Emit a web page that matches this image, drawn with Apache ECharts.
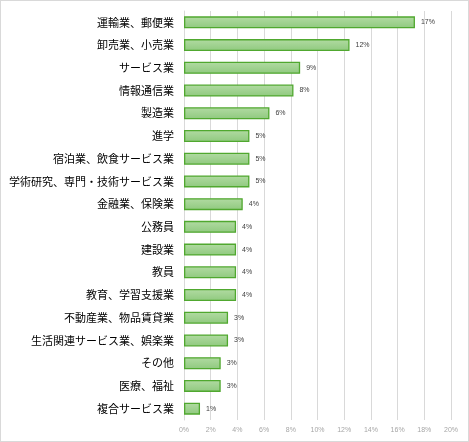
<!DOCTYPE html>
<html>
<head>
<meta charset="utf-8">
<script src="https://cdn.jsdelivr.net/npm/echarts@6/dist/echarts.min.js"></script>
<style>
  html, body { margin: 0; padding: 0; background: #fff; }
  #chart { width: 469px; height: 442px; box-sizing: border-box; border: 1px solid #d9d9d9; }
</style>
</head>
<body>
<div id="chart"></div>
<script>
const categories = [
  '運輸業、郵便業', '卸売業、小売業', 'サービス業', '情報通信業', '製造業', '進学',
  '宿泊業、飲食サービス業', '学術研究、専門・技術サービス業', '金融業、保険業', '公務員',
  '建設業', '教員', '教育、学習支援業', '不動産業、物品賃貸業', '生活関連サービス業、娯楽業',
  'その他', '医療、福祉', '複合サービス業'
];
const shares = [17.3, 12.4, 8.7, 8.2, 6.4, 4.9, 4.9, 4.9, 4.4, 3.9, 3.9, 3.9, 3.9, 3.3, 3.3, 2.75, 2.75, 1.2];
const tickLabels = ['0%', '2%', '4%', '6%', '8%', '10%', '12%', '14%', '16%', '18%', '20%'];

const chart = echarts.init(document.getElementById('chart'));
chart.setOption({
  animation: false,
  grid: { left: 183, right: 17, top: 10, bottom: 21, containLabel: false },
  xAxis: {
    type: 'value', min: 0, max: 20, interval: 2,
    axisLine: { show: false },
    axisTick: { show: false },
    splitLine: { lineStyle: { color: '#d9d9d9', width: 1 } },
    axisLabel: {
      color: '#a6a6a6', fontSize: 7, fontFamily: 'Liberation Sans', margin: 7,
      formatter: (v) => tickLabels[Math.round(v / 2)]
    }
  },
  yAxis: {
    type: 'category', inverse: true, data: categories,
    axisLine: { show: true, lineStyle: { color: '#d9d9d9' } },
    axisTick: { show: false },
    axisLabel: { color: '#000', fontSize: 11, fontFamily: 'Noto Sans CJK JP', margin: 10 }
  },
  series: [{
    type: 'bar', data: shares, barWidth: 12,
    itemStyle: {
      color: new echarts.graphic.LinearGradient(0, 0, 0, 1, [
        { offset: 0, color: '#b2dba3' },
        { offset: 1, color: '#8fc97e' }
      ]),
      borderColor: '#50a82f', borderWidth: 1.3
    },
    label: {
      show: true, position: 'right', distance: 6,
      color: '#404040', fontSize: 7, fontFamily: 'Liberation Sans',
      formatter: (p) => Math.round(p.value) + '%'
    }
  }]
});
</script>
</body>
</html>
